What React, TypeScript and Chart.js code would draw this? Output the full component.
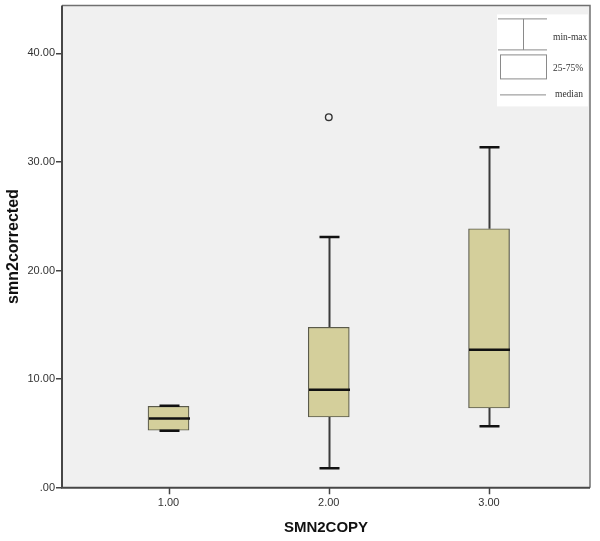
import React, { useEffect, useRef } from "react";
import { Chart, registerables } from "chart.js";

Chart.register(...registerables);

// ---- data ----
const categories = [1, 2, 3];
const categoryLabels = ["1.00", "2.00", "3.00"];
const mins = [5.25, 1.78, 5.66];
const q1s = [5.29, 6.51, 7.34];
const medians = [6.37, 9.03, 12.7];
const q3s = [7.5, 14.77, 23.85];
const maxs = [7.55, 23.09, 31.35];
const outlierX = [2];
const outlierY = [34.13];
const yTicks = [0, 10, 20, 30, 40];
const legendLabels = ["min-max", "25-75%", "median"];

const BOX_FILL = "#d4cf9b";
const PLOT_BG = "#f0f0f0";

const boxPlugin = {
  id: "boxExtras",
  beforeDraw(chart: any) {
    const { ctx, chartArea: a } = chart;
    ctx.save();
    ctx.fillStyle = "#ffffff";
    ctx.fillRect(0, 0, chart.width, chart.height);
    ctx.fillStyle = PLOT_BG;
    ctx.fillRect(a.left, a.top, a.right - a.left, a.bottom - a.top);
    ctx.restore();
  },
  beforeDatasetsDraw(chart: any) {
    const { ctx } = chart;
    const xs = chart.scales.x;
    const ys = chart.scales.y;
    ctx.save();
    categories.forEach((c, i) => {
      const x = Math.round(xs.getPixelForValue(c)) + 0.5;
      const yMin = ys.getPixelForValue(mins[i]);
      const yMax = ys.getPixelForValue(maxs[i]);
      const yQ1 = ys.getPixelForValue(q1s[i]);
      const yQ3 = ys.getPixelForValue(q3s[i]);
      ctx.strokeStyle = "#3a3a3a";
      ctx.lineWidth = 2;
      ctx.beginPath();
      ctx.moveTo(x, yQ3);
      ctx.lineTo(x, yMax);
      ctx.moveTo(x, yQ1);
      ctx.lineTo(x, yMin);
      ctx.stroke();
    });
    ctx.restore();
  },
  afterDatasetsDraw(chart: any) {
    const { ctx, chartArea: a } = chart;
    const xs = chart.scales.x;
    const ys = chart.scales.y;
    ctx.save();
    categories.forEach((c, i) => {
      const x = Math.round(xs.getPixelForValue(c)) + 0.5;
      const yMin = ys.getPixelForValue(mins[i]);
      const yMax = ys.getPixelForValue(maxs[i]);
      const yMed = ys.getPixelForValue(medians[i]);
      ctx.strokeStyle = "#111111";
      ctx.lineWidth = 2.5;
      ctx.beginPath();
      ctx.moveTo(x - 10, yMax);
      ctx.lineTo(x + 10, yMax);
      ctx.moveTo(x - 10, yMin);
      ctx.lineTo(x + 10, yMin);
      ctx.stroke();
      ctx.beginPath();
      ctx.moveTo(x - 20.5, yMed);
      ctx.lineTo(x + 20.5, yMed);
      ctx.stroke();
    });

    // frame
    ctx.strokeStyle = "#707070";
    ctx.lineWidth = 1.5;
    ctx.beginPath();
    ctx.moveTo(a.left, a.top);
    ctx.lineTo(a.right, a.top);
    ctx.lineTo(a.right, a.bottom);
    ctx.stroke();
    ctx.strokeStyle = "#474747";
    ctx.lineWidth = 2;
    ctx.beginPath();
    ctx.moveTo(a.left, a.top);
    ctx.lineTo(a.left, a.bottom);
    ctx.lineTo(a.right, a.bottom);
    ctx.stroke();

    // x-axis tick marks
    ctx.strokeStyle = "#444444";
    ctx.lineWidth = 1.5;
    ctx.beginPath();
    categories.forEach((c) => {
      const x = Math.round(xs.getPixelForValue(c)) + 0.5;
      ctx.moveTo(x, a.bottom);
      ctx.lineTo(x, a.bottom + 6.5);
    });
    ctx.stroke();

    // legend
    const lx = a.right - 93;
    const ly = a.top + 9;
    ctx.fillStyle = "#ffffff";
    ctx.fillRect(lx, ly, 91, 92);
    ctx.strokeStyle = "#8a8a8a";
    ctx.lineWidth = 1;
    ctx.beginPath();
    ctx.moveTo(lx + 1, ly + 4.5);
    ctx.lineTo(lx + 50, ly + 4.5);
    ctx.moveTo(lx + 1, ly + 35.5);
    ctx.lineTo(lx + 50, ly + 35.5);
    ctx.moveTo(lx + 26.5, ly + 4.5);
    ctx.lineTo(lx + 26.5, ly + 35.5);
    ctx.stroke();
    ctx.strokeRect(lx + 3.5, ly + 40.5, 46, 24);
    ctx.beginPath();
    ctx.moveTo(lx + 3, ly + 80.5);
    ctx.lineTo(lx + 49, ly + 80.5);
    ctx.stroke();
    ctx.fillStyle = "#333333";
    ctx.font = "9.5px 'Liberation Serif', serif";
    ctx.textBaseline = "middle";
    ctx.textAlign = "left";
    ctx.fillText(legendLabels[0], lx + 56, ly + 23);
    ctx.fillText(legendLabels[1], lx + 56, ly + 54);
    ctx.fillText(legendLabels[2], lx + 58, ly + 80);
    ctx.restore();
  },
};

export default function App() {
  const ref = useRef<HTMLCanvasElement>(null);
  useEffect(() => {
    if (!ref.current) return;
    const chart = new Chart(ref.current, {
      type: "bar",
      data: {
        datasets: [
          {
            type: "bar",
            data: categories.map((c, i) => ({ x: c, y: [q1s[i], q3s[i]] })) as any,
            backgroundColor: BOX_FILL,
            borderColor: "#5a5a4a",
            borderWidth: 1.2,
            borderSkipped: false,
            barThickness: 41,
          } as any,
          {
            type: "scatter",
            data: outlierX.map((x, i) => ({ x, y: outlierY[i] })),
            pointRadius: 3.3,
            pointBorderWidth: 1.4,
            pointBorderColor: "#333333",
            pointBackgroundColor: PLOT_BG,
          } as any,
        ],
      },
      options: {
        responsive: false,
        animation: false,
        layout: { padding: { top: 3.5, right: 10, left: 0, bottom: 0 } },
        plugins: { legend: { display: false }, tooltip: { enabled: false } },
        scales: {
          x: {
            type: "linear",
            offset: false,
            min: 0.3354,
            max: 3.63,
            afterBuildTicks: (s: any) => {
              s.ticks = categories.map((v) => ({ value: v }));
            },
            afterFit: (s: any) => {
              s.height = 53.3;
              s.paddingLeft = 0;
              s.paddingRight = 0;
            },
            ticks: {
              callback: (v: any) => categoryLabels[categories.indexOf(Number(v))] ?? "",
              color: "#333333",
              font: { family: "'Liberation Sans', Arial, sans-serif", size: 11 },
              padding: 3,
              maxRotation: 0,
            },
            grid: {
              display: false,
              offset: false,
              drawOnChartArea: false,
              drawTicks: true,
              tickLength: 6,
            },
            border: { display: false },
            title: {
              display: true,
              text: "SMN2COPY",
              color: "#111111",
              font: { family: "'Liberation Sans', Arial, sans-serif", size: 15, weight: "bold" },
              padding: { top: 0, bottom: 4 },
            },
          },
          y: {
            type: "linear",
            min: 0,
            max: 44.42,
            afterBuildTicks: (s: any) => {
              s.ticks = yTicks.map((v) => ({ value: v }));
            },
            afterFit: (s: any) => {
              s.width = 62;
              s.paddingTop = 0;
              s.paddingBottom = 0;
            },
            ticks: {
              callback: (v: any) => (Number(v) === 0 ? ".00" : Number(v).toFixed(2)),
              color: "#333333",
              font: { family: "'Liberation Sans', Arial, sans-serif", size: 11 },
              padding: 1,
            },
            grid: {
              display: true,
              drawOnChartArea: false,
              drawTicks: true,
              tickLength: 6,
              color: "#444444",
              lineWidth: 1.5,
            },
            border: { display: false },
            title: {
              display: true,
              text: "smn2corrected",
              color: "#111111",
              font: { family: "'Liberation Sans', Arial, sans-serif", size: 16, weight: "bold" },
              padding: { top: 4, bottom: 0 },
            },
          },
        },
      },
      plugins: [boxPlugin],
    });
    return () => chart.destroy();
  }, []);
  return (
    <div style={{ position: "fixed", left: 0, top: 0, width: 600, height: 541, background: "#ffffff" }}>
      <canvas ref={ref} width={600} height={541} style={{ display: "block" }} />
    </div>
  );
}
